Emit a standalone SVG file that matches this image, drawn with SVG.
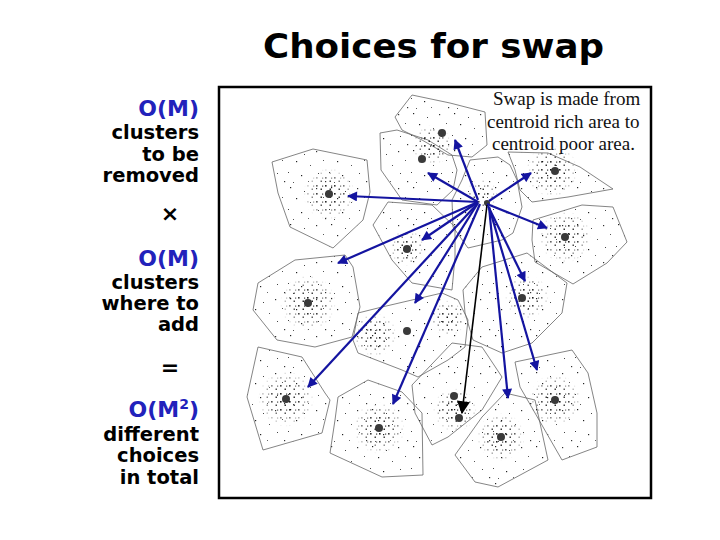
<svg xmlns="http://www.w3.org/2000/svg" width="720" height="540" viewBox="0 0 720 540">
<style>
.title{font-family:"DejaVu Sans",Verdana,sans-serif;font-weight:bold;font-size:34px;fill:#000}
.lt{font-family:"DejaVu Sans",Verdana,sans-serif;font-weight:bold;font-size:19.5px;fill:#000;text-anchor:end}
.bl{font-family:"DejaVu Sans",Verdana,sans-serif;font-weight:bold;font-size:22px;fill:#2222bb;text-anchor:end}
.op{font-family:"DejaVu Sans",Verdana,sans-serif;font-weight:bold;font-size:22px;fill:#000;text-anchor:middle}
.note{font-family:"Liberation Serif","Times New Roman",serif;font-size:19px;fill:#111}
.cell{fill:url(#sp);stroke:#666;stroke-width:0.8}
.core{fill:url(#dn)}
.cen{fill:#3a3a3a}
.arr{stroke:#1414a0;stroke-width:2.2;fill:none;marker-end:url(#ab)}
.blk{stroke:#000;stroke-width:1.6;fill:none;marker-end:url(#ak)}
</style>
<defs>
<pattern id="sp" width="41" height="37" patternUnits="userSpaceOnUse">
<rect x="3" y="2" width="1.2" height="1.2" fill="#222"/>
<rect x="17" y="6" width="1" height="1" fill="#444"/>
<rect x="29" y="3" width="1.2" height="1.2" fill="#333"/>
<rect x="36" y="12" width="1" height="1" fill="#555"/>
<rect x="9" y="13" width="1.2" height="1.2" fill="#222"/>
<rect x="23" y="17" width="1" height="1" fill="#555"/>
<rect x="1" y="24" width="1" height="1" fill="#444"/>
<rect x="14" y="27" width="1.2" height="1.2" fill="#222"/>
<rect x="31" y="25" width="1" height="1" fill="#444"/>
<rect x="38" y="33" width="1.2" height="1.2" fill="#333"/>
<rect x="21" y="33" width="1" height="1" fill="#666"/>
<rect x="6" y="34" width="1" height="1" fill="#555"/>
</pattern>
<pattern id="dn" width="9" height="8" patternUnits="userSpaceOnUse">
<rect x="1" y="1" width="1.6" height="1.6" fill="#000"/>
<rect x="5.5" y="4.5" width="1.5" height="1.5" fill="#111"/>
<rect x="7" y="1.5" width="1.2" height="1.2" fill="#222"/>
</pattern>
<radialGradient id="rg"><stop offset="0" stop-color="#fff"/><stop offset="0.5" stop-color="#bbb"/><stop offset="1" stop-color="#000"/></radialGradient>
<mask id="fade" maskContentUnits="objectBoundingBox"><rect width="1" height="1" fill="url(#rg)"/></mask>
<marker id="ab" viewBox="0 0 10 10" refX="9" refY="5" markerWidth="11" markerHeight="10" markerUnits="userSpaceOnUse" orient="auto"><path d="M0,0 L10,5 L0,10 z" fill="#1414a0"/></marker>
<marker id="ak" viewBox="0 0 10 10" refX="9" refY="5" markerWidth="14" markerHeight="13" markerUnits="userSpaceOnUse" orient="auto"><path d="M0,0 L10,5 L0,10 z" fill="#000"/></marker>
</defs>
<rect width="720" height="540" fill="#fff"/>
<text class="title" x="263" y="58" textLength="341" lengthAdjust="spacingAndGlyphs">Choices for swap</text>
<g id="left-text">
<text class="bl" x="199" y="116">O(M)</text>
<text class="lt" x="199" y="139">clusters</text>
<text class="lt" x="199" y="161">to be</text>
<text class="lt" x="199" y="182">removed</text>
<text class="op" x="170" y="221">×</text>
<text class="bl" x="199" y="266">O(M)</text>
<text class="lt" x="199" y="289">clusters</text>
<text class="lt" x="199" y="310">where to</text>
<text class="lt" x="199" y="331">add</text>
<text class="op" x="170" y="375">=</text>
<text class="bl" x="199" y="417">O(M<tspan font-size="14" dy="-8">2</tspan><tspan dy="8">)</tspan></text>
<text class="lt" x="199" y="441">different</text>
<text class="lt" x="199" y="462">choices</text>
<text class="lt" x="199" y="484">in total</text>
</g>
<g id="picture">
<rect x="219" y="87" width="432" height="411" fill="#fff" stroke="#000" stroke-width="2.5"/>
<g id="cells">
<polygon class="cell" points="395,117 412,95 450,103 485,112 487,145 472,157 448,155 422,140 402,130"/>
<polygon class="cell" points="380,133 397,130 428,140 452,155 457,170 453,190 437,205 402,200 381,170"/>
<polygon class="cell" points="272,162 313,149 367,160 370,192 363,220 333,248 290,227 278,193"/>
<polygon class="cell" points="470,160 498,157 510,165 517,180 522,207 513,233 502,240 468,248 453,227 452,200 462,180"/>
<polygon class="cell" points="508,152 548,153 580,167 613,189 568,197 532,202 520,190 515,170"/>
<polygon class="cell" points="533,220 582,205 613,207 627,242 607,263 573,284 535,262 532,240"/>
<polygon class="cell" points="373,225 388,202 432,205 455,227 455,257 452,290 412,283 392,260"/>
<polygon class="cell" points="258,283 295,260 345,255 353,267 360,307 352,337 315,347 277,340 253,310"/>
<polygon class="cell" points="358,313 382,307 442,293 458,300 468,320 465,347 448,360 418,377 402,370 358,353 353,340"/>
<polygon class="cell" points="463,290 482,267 527,253 567,283 562,313 532,343 502,353 473,340 465,313"/>
<polygon class="cell" points="258,347 302,357 325,393 330,400 322,433 263,450 247,397"/>
<polygon class="cell" points="338,397 368,380 402,392 422,413 423,475 382,477 330,453 335,420"/>
<polygon class="cell" points="412,385 452,343 482,347 502,377 482,410 448,437 432,445 415,413"/>
<polygon class="cell" points="455,455 482,417 505,393 535,400 548,460 498,487 475,482"/>
<polygon class="cell" points="515,362 572,350 588,373 597,413 597,447 562,460 535,413 520,387"/>
</g>
<g id="cores">
<circle class="core" cx="432" cy="145" r="20" mask="url(#fade)"/>
<circle class="core" cx="329" cy="194" r="26" mask="url(#fade)"/>
<circle class="core" cx="482" cy="195" r="16" mask="url(#fade)"/>
<circle class="core" cx="552" cy="171" r="26" mask="url(#fade)"/>
<circle class="core" cx="565" cy="237" r="26" mask="url(#fade)"/>
<circle class="core" cx="407" cy="248" r="18" mask="url(#fade)"/>
<circle class="core" cx="308" cy="303" r="28" mask="url(#fade)"/>
<circle class="core" cx="375" cy="335" r="22" mask="url(#fade)"/>
<circle class="core" cx="448" cy="318" r="18" mask="url(#fade)"/>
<circle class="core" cx="527" cy="297" r="22" mask="url(#fade)"/>
<circle class="core" cx="286" cy="399" r="28" mask="url(#fade)"/>
<circle class="core" cx="379" cy="428" r="26" mask="url(#fade)"/>
<circle class="core" cx="455" cy="410" r="22" mask="url(#fade)"/>
<circle class="core" cx="501" cy="437" r="24" mask="url(#fade)"/>
<circle class="core" cx="555" cy="400" r="26" mask="url(#fade)"/>
</g>
<g id="centroids">
<circle class="cen" cx="442" cy="133" r="4"/>
<circle class="cen" cx="422" cy="159" r="4"/>
<circle class="cen" cx="329" cy="194" r="4"/>
<circle class="cen" cx="487" cy="203" r="3"/>
<circle class="cen" cx="555" cy="171" r="4"/>
<circle class="cen" cx="565" cy="237" r="4"/>
<circle class="cen" cx="407" cy="249" r="4"/>
<circle class="cen" cx="308" cy="303" r="4"/>
<circle class="cen" cx="407" cy="331" r="4"/>
<circle class="cen" cx="522" cy="298" r="4"/>
<circle class="cen" cx="286" cy="399" r="4"/>
<circle class="cen" cx="379" cy="428" r="4"/>
<circle class="cen" cx="454" cy="396" r="4"/>
<circle class="cen" cx="459" cy="418" r="4"/>
<circle class="cen" cx="501" cy="437" r="4"/>
<circle class="cen" cx="555" cy="400" r="4"/>
</g>
<g id="note">
<text class="note" x="493" y="105">Swap is made from</text>
<text class="note" x="487" y="128">centroid rich area to</text>
<text class="note" x="492" y="150">centroid poor area.</text>
</g>
<g id="connectors">
<line class="arr" x1="478" y1="200" x2="455" y2="140"/>
<line class="arr" x1="478" y1="202" x2="428" y2="173"/>
<line class="arr" x1="478" y1="202" x2="348" y2="196"/>
<line class="arr" x1="478" y1="202" x2="422" y2="240"/>
<line class="arr" x1="478" y1="202" x2="338" y2="263"/>
<line class="arr" x1="478" y1="203" x2="415" y2="303"/>
<line class="arr" x1="478" y1="203" x2="308" y2="387"/>
<line class="arr" x1="480" y1="204" x2="393" y2="404"/>
<line class="blk" x1="487" y1="205" x2="462" y2="413"/>
<line class="arr" x1="489" y1="207" x2="508" y2="398"/>
<line class="arr" x1="489" y1="207" x2="537" y2="370"/>
<line class="arr" x1="488" y1="206" x2="525" y2="281"/>
<line class="arr" x1="487" y1="204" x2="547" y2="228"/>
<line class="arr" x1="489" y1="201" x2="531" y2="173"/>
</g>
</g>
</svg>
